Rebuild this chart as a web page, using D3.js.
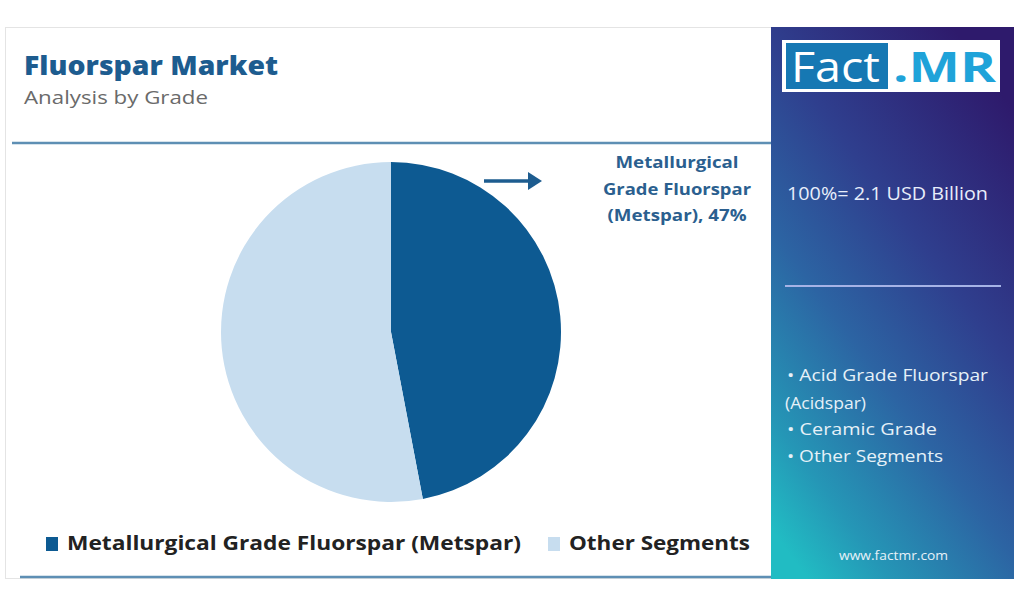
<!DOCTYPE html>
<html>
<head>
<meta charset="utf-8">
<script src="https://cdn.jsdelivr.net/npm/d3@7"></script>
<style>
  html, body { margin: 0; padding: 0; background: #ffffff; }
  svg { display: block; }
  text { font-family: "Open Sans", "Lato", sans-serif; }
</style>
</head>
<body>
<svg id="chart" width="1024" height="599"></svg>
<script>
// ---- data ----
const categories = ["Metallurgical Grade Fluorspar (Metspar)", "Other Segments"];
const shares = [47, 53];
const sliceColors = ["#0d5a92", "#c7ddef"];
const calloutLines = ["Metallurgical", "Grade Fluorspar", "(Metspar), 47%"];
const totalLabel = "100%= 2.1 USD Billion";
const otherSegments = ["\u2022 Acid Grade Fluorspar", "(Acidspar)", "\u2022 Ceramic Grade", "\u2022 Other Segments"];

const svg = d3.select("#chart");

// gradient for side panel
const defs = svg.append("defs");
const grad = defs.append("linearGradient").attr("id", "panelGrad")
  .attr("x1", "0.75").attr("y1", "0").attr("x2", "0.15").attr("y2", "1");
[["0", "#2e1a6c"], ["0.35", "#2f3f8e"], ["0.6", "#2c64a3"], ["0.85", "#2596b6"], ["1", "#21bcc3"]]
  .forEach(([o, c]) => grad.append("stop").attr("offset", o).attr("stop-color", c));

// helper: text fitted to a measured width
function fit(sel, w) {
  return sel.attr("textLength", w).attr("lengthAdjust", "spacingAndGlyphs");
}

// card border
svg.append("rect").attr("x", 5.5).attr("y", 27.5).attr("width", 1008).attr("height", 551)
  .attr("fill", "#fff").attr("stroke", "#e4e4e4").attr("stroke-width", 1);

// side panel
svg.append("rect").attr("x", 771).attr("y", 27).attr("width", 243).attr("height", 552)
  .attr("fill", "url(#panelGrad)");

// title
fit(svg.append("text").attr("x", 24).attr("y", 75).text("Fluorspar Market")
  .attr("font-size", 26).attr("font-weight", 800).attr("fill", "#1d5c8f"), 254);
fit(svg.append("text").attr("x", 24).attr("y", 104).text("Analysis by Grade")
  .attr("font-size", 18.5).attr("fill", "#6a6a6a"), 184);

// separator lines
svg.append("line").attr("x1", 12).attr("x2", 771).attr("y1", 143).attr("y2", 143)
  .attr("stroke", "#5e8fb4").attr("stroke-width", 2.5);
svg.append("line").attr("x1", 20).attr("x2", 771).attr("y1", 577).attr("y2", 577)
  .attr("stroke", "#5e8fb4").attr("stroke-width", 2.5);

// pie
const cx = 391, cy = 332, r = 170;
const pie = d3.pie().sort(null).value(d => d.v);
const arc = d3.arc().innerRadius(0).outerRadius(r);
const pdata = pie(categories.map((c, i) => ({ c, v: shares[i], col: sliceColors[i] })));
svg.append("g").attr("transform", `translate(${cx},${cy})`)
  .selectAll("path").data(pdata).join("path")
  .attr("d", arc).attr("fill", d => d.data.col);

// arrow
svg.append("line").attr("x1", 484).attr("x2", 532).attr("y1", 181).attr("y2", 181)
  .attr("stroke", "#1d5c8f").attr("stroke-width", 3.5);
svg.append("path").attr("d", "M528,172 L542,181 L528,190 Z").attr("fill", "#1d5c8f");

// callout text
const calloutW = [123, 148, 139];
svg.append("g").selectAll("text").data(calloutLines).join("text")
  .attr("text-anchor", "middle").attr("font-size", 16).attr("font-weight", 700)
  .attr("fill", "#2b5f8f")
  .attr("x", 677).attr("y", (d, i) => 168 + i * 26.5).text(d => d)
  .attr("textLength", (d, i) => calloutW[i]).attr("lengthAdjust", "spacingAndGlyphs");

// legend
const legX = [46, 548];
const legW = [454, 181];
const lg = svg.append("g").selectAll("g").data(categories).join("g")
  .attr("transform", (d, i) => `translate(${legX[i]},0)`);
lg.append("rect").attr("x", 0).attr("y", 537).attr("width", 12).attr("height", 14)
  .attr("fill", (d, i) => sliceColors[i]);
lg.append("text").attr("x", 21).attr("y", 550).text(d => d)
  .attr("font-size", 20).attr("font-weight", 700).attr("fill", "#222")
  .attr("textLength", (d, i) => legW[i]).attr("lengthAdjust", "spacingAndGlyphs");

// logo
svg.append("rect").attr("x", 782).attr("y", 40).attr("width", 218).attr("height", 52).attr("fill", "#fff");
svg.append("rect").attr("x", 786).attr("y", 43).attr("width", 102).attr("height", 46).attr("fill", "#1678b3");
fit(svg.append("text").attr("x", 791).attr("y", 82).text("Fact")
  .attr("font-size", 42).attr("fill", "#fff"), 89);
fit(svg.append("text").attr("x", 893).attr("y", 82).text(".MR")
  .attr("font-size", 42).attr("font-weight", 700).attr("fill", "#1fa3d9"), 103);

// total
fit(svg.append("text").attr("x", 787).attr("y", 200).text(totalLabel)
  .attr("font-size", 18).attr("fill", "#e8eefb"), 201);

svg.append("line").attr("x1", 785).attr("x2", 1001).attr("y1", 286).attr("y2", 286)
  .attr("stroke", "#a6b3e6").attr("stroke-width", 2);

const segY = [381, 409, 435, 462];
const segX = [787, 785, 787, 787];
const segW = [201, 81, 150, 156];
svg.append("g").selectAll("text").data(otherSegments).join("text")
  .attr("font-size", 17).attr("fill", "#e6f1f8")
  .attr("x", (d, i) => segX[i]).attr("y", (d, i) => segY[i]).text(d => d)
  .attr("textLength", (d, i) => segW[i]).attr("lengthAdjust", "spacingAndGlyphs");

fit(svg.append("text").attr("x", 839).attr("y", 560)
  .text("www.factmr.com").attr("font-size", 12.5).attr("fill", "#e6f1f8"), 109);
</script>
</body>
</html>
